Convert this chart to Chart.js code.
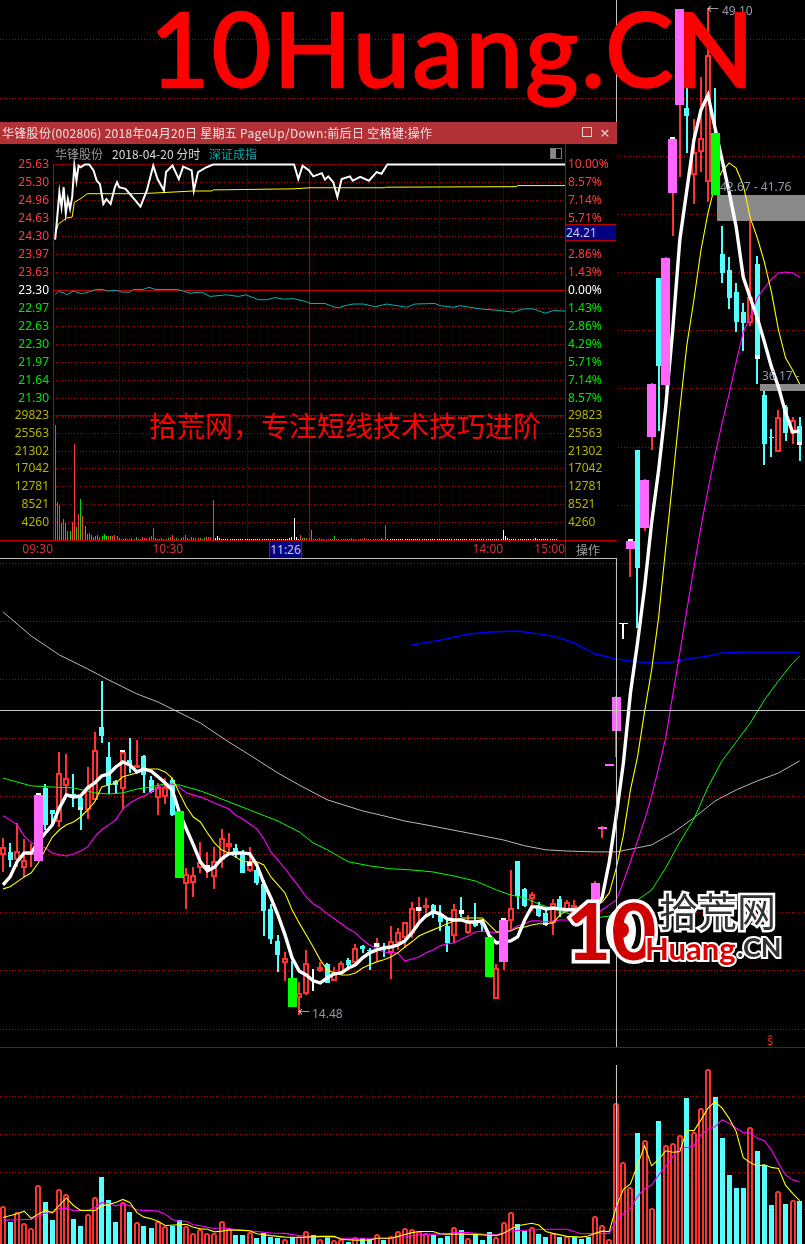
<!DOCTYPE html>
<html lang="zh">
<head>
<meta charset="utf-8">
<title>华锋股份</title>
<script src="https://cdn.jsdelivr.net/npm/chart.js@4"></script>
<style>
html,body{margin:0;padding:0;background:#000;width:805px;height:1244px;overflow:hidden}
canvas{position:absolute;display:block}
.t{position:absolute;white-space:pre;font-family:"Noto Sans","Noto Sans CJK SC",sans-serif;font-size:12px;line-height:14px}
.cjk{font-family:"Noto Sans CJK SC","Noto Sans",sans-serif}
.ln{position:absolute}
#popup{position:absolute;left:0;top:122px;width:617px;height:437px;background:#000}
</style>
</head>
<body>
<canvas id="k" style="left:0;top:0" width="805" height="1048"></canvas>
<canvas id="v" style="left:0;top:1048px" width="805" height="196"></canvas>
<div class="ln" style="left:0;top:1047px;width:805px;height:1px;background:#a00000"></div>

<div class="t" style="left:312px;top:1007px;color:#8f9aa6">14.48</div>
<div class="t" style="left:298px;top:1006px;color:#c8c8c8">←</div>
<div class="t" style="left:722px;top:4px;color:#8f9aa6">49.10</div>
<div class="t" style="left:707px;top:3px;color:#c8c8c8">←</div>
<div class="t" style="left:720px;top:180px;color:#8f9aa6">42.67 - 41.76</div>
<div class="t" style="left:762px;top:369px;color:#8f9aa6">36.17 -</div>
<div class="t" style="left:767px;top:1033px;color:#e03020;font-size:13px">ŝ</div>

<div id="popup">
  <canvas id="pp" style="left:0;top:22px" width="617" height="274"></canvas>
  <canvas id="pv" style="left:0;top:278px" width="617" height="160"></canvas>
  <div class="ln" style="left:0;top:0;width:617px;height:22px;background:#b23137"></div>
  <div class="t cjk" style="left:2px;top:3px;color:#f2e4e4;line-height:16px;letter-spacing:.3px">华锋股份(002806) 2018年04月20日 星期五 PageUp/Down:前后日 空格键:操作</div>
  <div class="ln" style="left:582px;top:5px;width:8px;height:8px;border:1px solid #e8d0d0"></div>
  <div class="t" style="left:600px;top:2px;color:#e8d0d0;font-size:17px;line-height:18px">×</div>
  <div class="t cjk" style="left:55px;top:24px;color:#9a9a9a;line-height:16px">华锋股份</div>
  <div class="t cjk" style="left:112px;top:24px;color:#d8d8d8;line-height:16px">2018-04-20 分时</div>
  <div class="t cjk" style="left:209px;top:24px;color:#00a8a8;line-height:16px">深证成指</div>
  <div class="ln" style="left:550px;top:26px;width:10px;height:9px;border:1px solid #777;background:linear-gradient(90deg,#888 50%,#000 50%)"></div>
  <div class="ln" style="left:53px;top:42px;width:1px;height:376px;background:#c00000"></div>
  <div class="ln" style="left:565px;top:22px;width:1px;height:413px;background:#c00000"></div>
  <div class="ln" style="left:0;top:418px;width:617px;height:1px;background:#c00000"></div>
  <div class="ln" style="left:0;top:436px;width:617px;height:1px;background:#c0c0c0"></div>
  <div class="t" style="left:566px;top:102px;width:50px;height:15px;background:#000080;border-top:1px solid #c00000;border-bottom:1px solid #c00000;color:#c8c8e0;line-height:15px">24.21</div>
  <div class="t" style="left:269px;top:419px;width:33px;height:17px;background:#000080;border-left:1px solid #c00000;border-right:1px solid #c00000;box-sizing:border-box;color:#c8c8e0;line-height:17px;text-align:center">11:26</div>
  <div class="t cjk" style="left:576px;top:420px;color:#a0a0a0;line-height:16px">操作</div>
  <div class="t cjk" style="left:149px;top:283px;color:#ff0000;font-size:28px;line-height:40px">拾荒网，专注短线技术技巧进阶</div>
</div>

<div class="t" style="left:150px;top:-17px;color:#ff0000;font-family:Lato,sans-serif;font-size:102px;line-height:130px;letter-spacing:2.6px;-webkit-text-stroke:2.5px #ff0000">10Huang.CN</div>

<div class="ln" style="left:606px;top:908px;width:30px;height:46px;border-radius:50%;background:#fff"></div>
<div class="t" style="left:566px;top:878px;color:#d00000;font-family:Lato,sans-serif;font-weight:700;font-size:78px;line-height:104px;-webkit-text-stroke:7px #fff;paint-order:stroke fill">10</div>
<div class="ln" style="left:613px;top:922px;width:16px;height:16px;border-radius:50%;background:#d00000"></div>
<div class="t cjk" style="left:659px;top:884px;color:#333;font-size:39px;line-height:50px;-webkit-text-stroke:5px #fff;paint-order:stroke fill">拾荒网</div>
<div class="t" style="left:645px;top:926px;color:#e00000;font-family:Lato,sans-serif;font-weight:700;font-size:31px;line-height:44px;-webkit-text-stroke:4px #fff;paint-order:stroke fill">Huang</div>
<div class="t" style="left:737px;top:927px;color:#333;font-family:Lato,sans-serif;font-weight:700;font-size:27px;line-height:40px;-webkit-text-stroke:4px #fff;paint-order:stroke fill">.CN</div>

<script>
// ---------- daily candles (prices) ----------
const kinds = "rcrrrpccrr"+"ccrrcccrcr"+"ccrrcgrrrr"+"rrrccrcccc"+"rgrrwrcrrc"+"rccrcrrrrr"+"rcccrcrccg"+"rprccrccrc"+"rrccppppvp"+"cppcpppcrr"+"rgccccrccc"+"rcrc";
const high = [20.57,20.40,21.09,20.54,20.36,22.12,22.43,21.53,23.53,23.46,
22.77,21.98,23.01,24.21,25.97,23.87,22.56,23.59,24.01,23.94,
23.42,22.70,22.46,22.63,22.63,21.50,19.54,19.57,20.43,20.09,
20.26,20.88,20.74,20.36,20.16,20.26,19.64,19.13,18.30,17.24,
16.65,16.34,15.62,16.72,16.07,16.31,16.27,16.14,16.34,16.45,
16.93,16.89,16.79,17.13,16.96,17.55,17.48,17.68,18.37,18.54,
18.51,18.30,18.27,17.75,18.30,18.54,17.92,18.34,17.75,17.17,
16.24,17.82,19.47,19.78,18.85,18.71,18.37,18.10,18.47,18.58,
18.44,18.44,18.27,18.27,19.09,20.98,23.11,25.45,27.96,30.85,
33.90,32.91,36.21,39.81,40.54,44.66,49.05,46.52,45.28,46.72,
49.10,46.34,41.60,40.54,39.64,38.96,41.81,40.57,35.93,34.63,
35.28,35.45,35.04,35.04];
const bodyTop = [20.26,20.09,20.12,19.81,20.05,22.05,22.29,21.53,22.80,22.63,
22.08,21.95,22.29,23.59,24.38,23.35,22.53,23.53,23.25,23.08,
23.39,22.56,22.32,22.32,22.56,21.50,19.33,19.30,19.75,19.64,
19.78,20.57,20.40,20.23,20.05,19.75,19.47,18.99,18.13,17.03,
16.45,15.76,15.24,16.27,15.69,16.14,16.24,15.93,16.27,16.38,
16.79,16.86,16.72,16.96,16.82,17.03,17.34,17.68,18.16,18.20,
18.27,18.27,17.92,17.55,18.13,18.10,17.68,17.65,17.65,17.17,
16.10,17.75,18.16,19.78,18.82,18.65,18.20,17.99,18.34,18.47,
18.37,18.27,18.16,18.10,19.02,20.95,23.11,25.42,27.96,30.78,
33.90,32.87,36.17,39.81,40.50,44.59,49.05,45.66,44.14,44.63,
47.48,44.80,40.64,40.09,39.33,38.65,39.16,40.30,35.79,34.32,
35.04,35.38,34.93,34.73];
const bodyBottom = [19.99,19.81,19.81,19.54,19.99,19.78,21.02,21.40,21.12,22.36,
22.01,21.53,21.53,21.88,24.08,22.39,22.39,22.25,23.08,22.98,
22.74,22.15,21.95,21.98,21.36,19.20,18.99,19.02,19.54,19.51,
19.23,19.81,20.26,19.99,19.37,19.44,19.02,18.06,17.10,16.55,
16.27,14.76,15.07,15.21,15.66,16.00,15.59,15.66,15.93,16.21,
16.27,16.76,16.69,16.82,16.72,16.62,16.96,17.13,17.31,18.06,
18.16,17.96,17.68,16.96,17.20,17.96,17.31,17.55,17.58,15.79,
15.04,16.31,17.72,18.58,18.23,18.47,17.89,17.58,17.65,18.13,
18.10,17.75,17.82,17.58,17.24,20.88,23.04,24.25,27.92,30.50,
29.85,31.22,34.35,36.79,36.14,42.74,45.76,45.38,43.35,44.14,
43.11,42.67,39.99,39.13,38.30,38.27,38.27,37.03,34.11,34.30,
33.84,34.49,34.49,34.08];
const low = [19.40,19.57,19.57,19.23,19.57,19.78,20.85,20.95,20.95,21.98,
21.64,20.85,21.22,21.88,23.84,22.08,22.08,21.53,22.80,22.98,
22.12,22.12,21.36,21.74,21.33,19.20,18.13,18.54,19.37,19.20,
18.82,19.54,19.99,19.88,19.37,19.40,18.96,17.20,16.93,15.97,
15.66,14.76,14.48,15.18,15.31,15.97,15.59,15.66,15.93,16.07,
16.27,16.62,16.03,16.34,16.48,15.73,16.72,16.79,17.13,17.72,
17.86,17.82,17.37,16.65,16.96,17.86,17.27,17.51,17.34,15.79,
15.04,16.03,17.41,18.13,18.20,18.06,17.86,17.55,17.24,17.86,
18.03,17.58,17.58,17.24,17.07,20.57,23.04,23.35,27.41,29.54,
27.79,31.12,33.90,34.56,35.90,41.26,43.29,44.11,42.36,43.46,
42.43,42.67,39.64,38.75,37.96,37.31,38.16,36.17,33.39,33.66,
33.84,34.21,34.11,33.53];
const markIdx = [5,11,17,29,35,53,59,65,71,77,89,95,107,113];
const markHi = [22.12,21.64,23.59,19.64,19.75,16.96,18.20,18.10,17.82,17.65,30.85,44.66,37.17,34.18];
const markLo = [22.05,21.53,23.53,19.51,19.61,16.82,18.06,17.96,17.75,17.58,30.78,44.59,37.03,34.08];

// ---------- moving averages on the candles ----------
const maWhite = [18.96,19.23,19.75,20.05,20.05,20.43,20.74,21.02,21.60,22.05,
21.98,22.01,22.29,22.46,22.70,22.77,23.01,23.18,23.08,22.84,
22.94,22.87,22.67,22.46,22.22,21.46,20.88,20.33,19.75,19.44,
19.57,19.85,20.02,20.05,20.05,20.02,19.64,19.02,18.51,17.92,
17.24,16.45,16.00,15.86,15.66,15.59,15.76,15.90,15.93,16.10,
16.21,16.45,16.62,16.72,16.79,16.82,16.89,17.03,17.31,17.65,
17.89,18.03,17.96,17.79,17.75,17.75,17.68,17.68,17.72,17.20,
16.96,17.00,17.03,17.17,17.75,18.20,18.20,18.13,18.16,18.13,
18.10,18.10,17.99,17.92,18.10,18.54,19.75,21.36,23.15,25.55,
27.27,29.16,31.40,33.22,35.38,38.03,41.12,42.84,44.56,45.59,
46.10,44.97,43.87,42.77,41.57,39.85,39.13,38.44,37.62,36.76,
36.07,35.18,34.52,34.56];
const maYellow = [18.82,18.89,19.06,19.23,19.37,19.71,20.16,20.60,20.85,21.02,
21.12,21.29,21.53,21.81,22.32,22.39,22.46,22.67,22.74,22.80,
22.91,22.94,22.94,22.84,22.63,22.12,21.64,21.29,21.12,20.74,
20.40,20.16,20.05,19.92,19.75,19.75,19.75,19.64,19.23,18.96,
18.68,18.10,17.65,17.24,16.82,16.38,16.03,15.93,15.86,15.86,
15.93,16.10,16.21,16.31,16.38,16.48,16.62,16.82,17.00,17.20,
17.31,17.41,17.51,17.62,17.72,17.82,17.82,17.82,17.82,17.58,
17.34,17.34,17.37,17.48,17.51,17.58,17.62,17.62,17.65,17.92,
18.10,18.16,18.16,18.20,18.27,18.37,18.68,19.54,20.67,22.22,
23.35,24.90,26.34,28.16,30.54,32.87,35.28,37.51,39.06,40.77,
42.05,43.01,43.49,43.77,43.59,43.01,41.88,41.19,40.36,39.33,
38.03,37.07,36.65,36.17];
const maMagenta = [21.33,21.19,21.02,20.64,20.40,20.30,20.23,20.05,19.99,19.95,
20.02,20.12,20.26,20.60,20.85,21.02,21.19,21.57,21.77,21.91,
22.01,22.15,22.32,22.39,22.43,22.32,22.12,22.05,21.98,21.88,
21.77,21.67,21.57,21.36,21.22,21.05,20.88,20.54,20.09,19.81,
19.51,19.20,18.89,18.54,18.30,18.16,17.96,17.79,17.62,17.44,
17.31,17.07,16.89,16.76,16.65,16.62,16.62,16.34,16.41,16.48,
16.62,16.72,16.86,16.93,16.96,17.10,17.20,17.34,17.37,17.34,
17.31,17.34,17.41,17.55,17.62,17.72,17.72,17.68,17.72,17.75,
17.75,17.75,17.75,17.82,17.92,18.10,18.27,18.44,19.06,19.75,
20.47,21.19,22.01,22.98,24.01,25.48,26.93,28.41,29.85,31.26,
32.53,33.73,34.83,35.83,36.93,37.96,38.47,39.13,39.47,39.78,
39.99,40.02,39.99,39.85];
const maGreenX = [0,2,4,7,10,13,15,17,19,21,23,25,28,31,35,39,42,44,46,49,52,55,58,61,64,67,70,72,74,76,78,81,84,87,90,92,94,96,98,100,102,104,106,108,110,112,113];
const maGreen = [22.63,22.49,22.36,22.32,22.29,22.12,22.08,22.12,22.25,22.32,22.43,22.39,22.19,21.91,21.53,21.15,20.78,20.40,20.16,19.75,19.61,19.51,19.47,19.40,19.26,19.09,18.78,18.61,18.51,18.30,18.13,17.92,17.82,17.92,18.44,18.78,19.54,20.43,21.22,22.32,23.22,23.87,24.52,25.31,25.97,26.58,26.82];
const maGrayX = [0,4,8,12,15,19,22,24,28,32,35,39,42,46,51,54,57,60,66,71,74,77,80,84,87,90,92,95,98,101,104,107,110,113];
const maGray = [28.34,27.51,26.86,26.38,26.00,25.52,25.24,25.00,24.52,23.87,23.42,22.80,22.39,21.88,21.50,21.33,21.15,21.02,20.74,20.50,20.30,20.16,20.12,20.09,20.09,20.23,20.33,20.74,21.26,21.84,22.22,22.53,22.80,23.22];
const maBlueX = [58,62,66,69,73,77,79,81,84,87,90,93,95,97,100,102,105,112,113];
const maBlue = [27.20,27.37,27.58,27.65,27.68,27.55,27.44,27.27,26.89,26.72,26.62,26.58,26.62,26.72,26.82,26.93,26.96,26.96,26.93];
const priceGrid = [14,16,18,20,22,24,26,28,30,32,34,36,38,40,42,44,46,48];
const crossIndex = 87.02, crossPrice = 24.95;
const gapFrom = [101.3,107.4], gapTop = [42.67,36.17], gapBottom = [41.76,35.93];

// ---------- daily volume ----------
const volume = [1.11,.69,.96,.65,.53,1.65,1.21,.74,1.55,1.43,
.76,.58,.89,1.35,1.88,1.27,.68,1.22,.95,.67,
.58,.52,.72,.58,.58,.74,.58,.38,.49,.38,
.38,.71,.53,.34,.34,.41,.27,.38,.29,.27,
.22,.29,.32,.43,.34,.22,.28,.20,.22,.16,
.29,.25,.22,.35,.20,.32,.43,.53,.50,.45,
.38,.34,.27,.32,.56,.47,.27,.34,.20,.42,
.29,.69,.96,.63,.45,.56,.36,.28,.40,.28,
.31,.28,.23,.29,.85,.61,.22,3.85,2.28,1.62,
3.04,2.86,1.04,3.36,2.73,2.79,3.00,3.97,3.08,3.71,
4.73,3.99,2.91,1.93,1.58,1.58,3.21,2.57,2.20,1.13,
1.51,1.16,1.27,1.24];
const volumeDir = "rcrrrrccrr"+"ccrrcccrcr"+"ccrrccrrrr"+"rrrccrcccc"+"rcrrcrcrrc"+"rccrcrrrrr"+"rcccrcrccc"+"rrrccrccrc"+"rcccrrrrrr"+"crrcrrrcrr"+"rcccccrccc"+"rcrc";
const volYellowX = [0,2,3,4,5,6,7,9,10,11,13,14,15,16,17,18,19,20,21,22,23,25,26,27,28,29,30,31,32,34,35,36,38,40,42,43,45,47,48,50,52,53,55,56,57,58,59,61,62,63,65,67,70,71,72,73,75,76,77,78,80,82,83,84,85,86,87,88,89,90,91,92,93,94,95,96,97,98,99,100,101,102,103,104,105,106,107,108,109,110,111,112,113];
const volYellow = [.80,.90,.97,.78,.89,.99,.93,1.32,1.12,.99,.98,1.11,1.15,1.20,1.28,1.20,.93,.81,.77,.70,.59,.61,.62,.54,.50,.49,.42,.44,.47,.46,.45,.37,.32,.28,.27,.28,.30,.30,.22,.20,.20,.25,.25,.30,.35,.40,.43,.43,.37,.36,.36,.35,.32,.38,.49,.58,.65,.60,.43,.38,.30,.28,.31,.38,.44,.43,1.09,1.55,1.69,2.19,2.70,2.17,2.34,2.57,2.53,2.55,3.12,3.10,3.39,3.70,3.87,3.70,3.43,3.08,2.39,2.26,2.17,2.20,2.13,2.10,1.66,1.44,1.25];
const volMagentaX = [0,2,4,5,6,7,8,9,10,12,13,14,15,16,17,18,19,22,23,24,25,26,27,28,29,30,31,33,36,38,40,42,44,47,48,52,55,56,57,59,61,63,64,66,68,70,72,75,77,80,82,84,86,87,88,89,90,91,92,93,94,95,96,97,98,99,100,101,102,103,104,105,106,107,108,109,110,111,112,113];
const volMagenta = [.73,.74,.75,.84,.92,.92,1.04,1.05,.98,.99,1.06,1.20,1.16,1.11,1.16,1.11,1.00,.97,.89,.75,.71,.70,.61,.58,.54,.51,.53,.48,.43,.39,.38,.32,.29,.28,.25,.25,.25,.28,.29,.34,.36,.36,.41,.40,.36,.34,.45,.47,.49,.49,.37,.38,.38,.72,.91,1.04,1.35,1.57,1.66,1.93,2.15,2.41,2.64,2.66,2.70,2.99,3.15,3.21,3.39,3.30,3.17,3.05,3.05,2.90,2.84,2.59,2.24,1.93,1.80,1.74];
const volGrid = [1,2,3,4];
const crossVolTop = 4.846;

// ---------- intraday popup ----------
const minuteWhiteX = [0,1,2,3,4,5,6,7,8,9,10,11,12,14,16,18,19.5,21,22.6,24,26,28,29,30,33,36,40,43,46,48,51,52,55,58,60,64,65,67,71,74,112,114,116,119,121,125,126.5,128,130.4,132.3,134.3,138.2,139.5,143,147.1,150.7,153,155.7,239];
const minuteWhite = [24.24,24.66,25.12,24.84,25.21,24.72,24.99,24.81,25.03,25.61,25.33,25.61,25.58,25.63,25.63,25.52,25.33,25.27,24.90,24.99,24.90,25.21,25.30,25.21,25.18,25.04,24.85,25.15,25.61,25.36,25.15,25.49,25.61,25.36,25.59,25.52,25.15,25.49,25.58,25.63,25.63,25.36,25.61,25.52,25.41,25.47,25.35,25.41,25.30,25.03,25.36,25.41,25.33,25.40,25.33,25.49,25.46,25.63,25.63];
const minuteAvgX = [0,1.5,5.4,8,9,12.4,15,21,36.7,45.3,64.8,73.4,74.2,111.7,119.5,154.6,155,216,217,239];
const minuteAvg = [24.32,24.53,24.64,24.66,24.93,25.01,25.09,25.09,25.09,25.10,25.14,25.14,25.16,25.18,25.20,25.20,25.21,25.22,25.24,25.24];
const minuteIndexX = [0,1.5,3.8,5.4,8.5,12.4,15.6,19.5,22.6,24.2,28.8,31.2,35.1,36.7,41.4,44,46.8,57,60.1,63.2,68.7,72.6,80.4,85.9,89.5,95.2,99.2,103.1,107,111.7,118,119.5,126.5,130.4,132.8,135.9,139.8,144.5,150,155.4,164.8,168.7,178.1,180.4,186.7,189.8,199.2,208.6,214.8,219.5,224.2,229.7,233.6,239];
const minuteIndex = [23.22,23.28,23.26,23.22,23.29,23.24,23.27,23.32,23.32,23.29,23.30,23.27,23.27,23.32,23.32,23.36,23.32,23.32,23.29,23.25,23.27,23.19,23.22,23.19,23.22,23.13,23.13,23.17,23.14,23.15,23.09,23.06,23.06,23.00,22.98,23.02,23.05,23.05,23.00,23.05,22.99,23.05,23.06,23.02,22.99,23.02,22.96,22.93,22.90,22.96,22.96,22.88,22.93,22.92];
const minuteVol = [27540,9070,8520,4060,5010,4060,2230,2230,4300,23000,
3180,6200,9870,5810,3420,1510,1670,1270,720,1030,
1270,720,1030,1430,1000,1000,1000,1100,1200,1000,
500,400,400,500,400,400,500,400,800,400,
300,700,600,600,800,1000,2950,500,400,300,
500,400,300,500,800,1270,400,500,300,500,
900,1270,500,300,700,600,600,500,600,400,
500,700,700,800,9630,600,1030,500,300,300,
300,250,300,250,250,300,250,300,250,300,
250,250,300,250,300,300,250,250,300,250,
300,250,250,300,250,300,250,250,300,400,
500,700,5250,800,300,1270,500,600,600,500,
2470,300,300,400,500,300,300,400,300,300,
300,1030,300,350,400,300,350,300,400,500,
350,300,300,300,400,500,300,350,300,300,
400,350,400,500,300,3660,300,300,250,250,
300,250,300,250,250,300,250,250,300,250,
300,250,300,300,250,250,300,250,300,250,
250,300,250,300,300,250,250,300,250,300,
250,300,300,250,300,250,250,300,250,300,
250,300,250,250,300,300,250,300,250,300,
2470,1030,500,250,300,250,250,300,250,250,
300,250,300,250,300,500,300,250,300,250,
300,250,250,300,250,300];
const minuteVolDir = "rrrgrgggrr"+"grgrgggggg"+"gggggrgrrr"+"gggggggggg"+"grrrrrrggg"+"ggggrrgggg"+"rrgggrrrgg"+"grrrrwwwww"+"wwwwwwwwww"+"wwwwwwwwww"+"wwwwwwwwww"+"wwwww"+"rggrg"+"ggrrrggrrg"+"ggggrrgggr"+"rgrggrggrg"+"ggrggr";
const priceTicks = [25.63,25.30,24.96,24.63,24.30,23.97,23.63,23.30,22.97,22.63,22.30,21.97,21.64,21.30,20.97];
const pctTicks = [10,8.57,7.14,5.71,4.29,2.86,1.43,0,-1.43,-2.86,-4.29,-5.71,-7.14,-8.57,-10];
const volTicks = [4260,8521,12781,17042,21302,25563,29823];
const timeGrid = [30,60,90,150,180,210];
const timeTicks = [-1,60,210,239];
const timeLabels = {"-1":"09:30","60":"10:30","210":"14:00","239":"15:00"};
const cursorMinute = 119.3;

// ---------- drawing ----------
const RED="#ff3232", CYAN="#54ffff", PINK="#ff66ff", GREEN="#00ff00", WHITE="#ffffff", GRID="#c00000";
const SP = 7.05;                   // px between daily bars, only used for bar widths
const FONT = {family:'"Noto Sans","Noto Sans CJK SC",sans-serif',size:12};
Chart.defaults.font.family = FONT.family;

const snap = {id:"snap",afterUpdate(chart){
  chart.getSortedVisibleDatasetMetas().forEach(m=>{
    if(m.type!=="bar")return;
    m.data.forEach(el=>{
      const w=Math.max(1,Math.round(el.width));
      el.width=w; el.x=Math.round(el.x-w/2)+w/2;
      el.y=Math.round(el.y); el.base=Math.round(el.base);
      if(el.base===el.y)el.base=el.y+1;
      el.height=el.base-el.y;
    });
  });
}};
const gaps = {id:"gaps",beforeDatasetsDraw(chart){
  const {ctx,scales:{x,y},chartArea:a}=chart;
  ctx.save();ctx.fillStyle="#8a8a8a";
  gapFrom.forEach((g,i)=>{
    const l=Math.round(x.getPixelForValue(g)),t=Math.round(y.getPixelForValue(gapTop[i])),b=Math.round(y.getPixelForValue(gapBottom[i]));
    ctx.fillRect(l,t,a.right-l,b-t);
  });
  ctx.restore();
}};
const dotted = (hVals,vVals)=>({id:"dotted",beforeDatasetsDraw(chart){
  const {ctx,scales:{x,y},chartArea:a}=chart;
  ctx.save();ctx.strokeStyle=GRID;ctx.lineWidth=1;ctx.setLineDash([1,2]);
  ctx.beginPath();
  hVals.forEach(v=>{const p=Math.round(y.getPixelForValue(v)-.5)+.5;ctx.moveTo(a.left,p);ctx.lineTo(a.right,p);});
  vVals.forEach(v=>{const p=Math.round(x.getPixelForValue(v)-.5)+.5;ctx.moveTo(p,a.top);ctx.lineTo(p,a.bottom);});
  ctx.stroke();ctx.restore();
}});
const base = {responsive:false,animation:false,events:[],plugins:{legend:{display:false},tooltip:{enabled:false}}};
const barOpt = (w,o)=>Object.assign({type:"bar",grouped:false,categoryPercentage:1,barPercentage:w/SP,borderWidth:0,borderSkipped:false},o);
const line = (xs,ys,color,w,order)=>({type:"line",data:ys.map((v,i)=>({x:xs?xs[i]:i,y:v})),borderColor:color,borderWidth:w,pointRadius:0,tension:0,order});
const seg = (pts,color,order)=>({type:"line",data:pts,borderColor:color,borderWidth:1,pointRadius:0,tension:0,order});
const idxOf = fn => high.map((_,i)=>i).filter(i=>fn(kinds[i]));
const floats = (ids,a,b)=>ids.map(i=>({x:i,y:[a[i],b[i]]}));
const wickColor = {r:RED,c:CYAN,p:RED,g:CYAN,w:WHITE,v:WHITE};
const all = high.map((_,i)=>i);
const xDaily = {type:"linear",display:false,offset:false,min:-0.4255,max:113.76,grid:{offset:false}};
const noAuto = {autoPadding:false};
const noGrid = {display:false,drawTicks:false,tickLength:0};
const sideAxis = w => s => { s.width=w; s.paddingTop=0; s.paddingBottom=0; };

new Chart(document.getElementById("k"),{
  data:{datasets:[
    barOpt(2,{label:"wick",order:30,data:floats(all,low,high),backgroundColor:c=>wickColor[kinds[c.raw.x]]}),
    barOpt(5,{label:"down",order:29,minBarLength:1,data:floats(idxOf(k=>k==="c"),bodyBottom,bodyTop),backgroundColor:CYAN}),
    barOpt(6,{label:"up",order:28,minBarLength:2,data:floats(idxOf(k=>k==="r"),bodyBottom,bodyTop),backgroundColor:"#000",borderColor:RED,borderWidth:2}),
    barOpt(5,{label:"flat",order:27,minBarLength:1,data:floats(idxOf(k=>k==="w"),bodyBottom,bodyTop),backgroundColor:WHITE}),
    barOpt(5,{label:"mark",order:26,data:markIdx.map((m,i)=>({x:m,y:[markLo[i],markHi[i]]})),backgroundColor:WHITE}),
    line(maGrayX,maGray,"#b8b8b8",1,25),
    line(maBlueX,maBlue,"#0000ff",1.4,24),
    line(maGreenX,maGreen,"#00ff00",1,23),
    line(null,maMagenta,"#ff00ff",1.1,22),
    line(null,maYellow,"#ffff00",1.1,21),
    line(null,maWhite,"#ffffff",3.4,20),
    barOpt(9,{label:"wide",order:10,minBarLength:1,data:floats(idxOf(k=>k==="p"||k==="g"||k==="v"),bodyBottom,bodyTop),backgroundColor:c=>({p:PINK,g:GREEN,v:WHITE})[kinds[c.raw.x]]}),
    seg([{x:crossIndex,y:13.35},{x:crossIndex,y:49.37}],"#c8c8c8",1),
    seg([{x:-0.4255,y:crossPrice},{x:113.76,y:crossPrice}],"#c8c8c8",1)
  ]},
  options:Object.assign({},base,{layout:noAuto,scales:{
    x:xDaily,
    y:{type:"linear",min:13.35,max:49.37,afterBuildTicks:s=>{s.ticks=priceGrid.map(v=>({value:v}))},afterFit:s=>{s.width=0},
       ticks:{display:false},border:{display:false,dash:[1,2]},grid:{color:GRID,drawTicks:false,tickLength:0}}
  }}),
  plugins:[snap,gaps]
});

new Chart(document.getElementById("v"),{
  data:{datasets:[
    barOpt(5,{label:"volDown",order:10,data:volume.map((v,i)=>({x:i,y:v})).filter(d=>volumeDir[d.x]==="c"),backgroundColor:CYAN,borderSkipped:"bottom"}),
    barOpt(6,{label:"volUp",order:9,data:volume.map((v,i)=>({x:i,y:v})).filter(d=>volumeDir[d.x]==="r"),backgroundColor:"#000",borderColor:RED,borderWidth:2,borderSkipped:"bottom",borderRadius:{topLeft:2,topRight:2,bottomLeft:0,bottomRight:0}}),
    line(volMagentaX,volMagenta,"#ff00ff",1.1,5),
    line(volYellowX,volYellow,"#ffff00",1.1,4),
    seg([{x:crossIndex,y:crossVolTop},{x:crossIndex,y:0}],"#c8c8c8",1)
  ]},
  options:Object.assign({},base,{layout:noAuto,scales:{
    x:xDaily,
    y:{type:"linear",min:0.098,max:5.297,afterBuildTicks:s=>{s.ticks=volGrid.map(v=>({value:v}))},afterFit:s=>{s.width=0},
       ticks:{display:false},border:{display:false,dash:[1,2]},grid:{color:GRID,drawTicks:false,tickLength:0}}
  }}),
  plugins:[snap]
});

const priceColor = v => v>0.001?"#ff3c3c":(v<-0.001?"#00e800":"#ffffff");
new Chart(document.getElementById("pp"),{
  data:{datasets:[
    seg([{x:-1,y:25.63},{x:239,y:25.63}],GRID,9),
    seg([{x:-1,y:23.30},{x:239,y:23.30}],GRID,9),
    seg([{x:cursorMinute,y:20.97},{x:cursorMinute,y:25.63}],GRID,9),
    line(minuteIndexX,minuteIndex,"#00b4b4",1,3),
    line(minuteAvgX,minuteAvg,"#ffff00",1,2),
    Object.assign(line(minuteWhiteX,minuteWhite,"#ffffff",2,1),{clip:6})
  ]},
  options:Object.assign({},base,{layout:{autoPadding:false,padding:{top:20.5,bottom:1.5}},scales:{
    x:{type:"linear",display:false,min:-1,max:239},
    y:{type:"linear",position:"left",min:20.97,max:25.63,afterBuildTicks:s=>{s.ticks=priceTicks.map(v=>({value:v}))},afterFit:sideAxis(53),
       ticks:{padding:4,font:FONT,autoSkip:false,color:c=>c.tick?priceColor(c.tick.value-23.30):"#fff",callback:v=>v===20.97?"":v.toFixed(2)},
       border:{display:false},grid:noGrid},
    y2:{type:"linear",position:"right",min:-10,max:10,afterBuildTicks:s=>{s.ticks=pctTicks.map(v=>({value:v}))},afterFit:sideAxis(52),
       ticks:{padding:3,font:FONT,autoSkip:false,color:c=>c.tick?priceColor(c.tick.value):"#fff",callback:v=>v===-10?"":Math.abs(v).toFixed(2)+"%"},
       border:{display:false},grid:noGrid}
  }}),
  plugins:[dotted(priceTicks,timeGrid)]
});

new Chart(document.getElementById("pv"),{
  data:{datasets:[
    seg([{x:-1,y:29823},{x:239,y:29823}],GRID,9),
    seg([{x:cursorMinute,y:0},{x:cursorMinute,y:29823}],GRID,9),
    {type:"bar",grouped:false,categoryPercentage:1,barPercentage:.5,borderWidth:0,order:1,data:minuteVol.map((v,i)=>({x:i,y:v})),
     backgroundColor:c=>({r:"#ff3c3c",g:"#00e000",w:"#ffffff"})[minuteVolDir[c.raw.x]||"w"]}
  ]},
  options:Object.assign({},base,{layout:{autoPadding:false,padding:{top:15.5}},scales:{
    x:{type:"linear",offset:false,min:-1,max:239,afterBuildTicks:s=>{s.ticks=timeTicks.map(v=>({value:v}))},afterFit:s=>{s.height=19.7},
       ticks:{autoSkip:false,maxRotation:0,align:"end",padding:2,font:FONT,color:"#d83030",callback:v=>timeLabels[String(v)]||""},
       border:{display:false},grid:Object.assign({offset:false},noGrid)},
    y:{type:"linear",position:"left",min:0,max:29823,afterBuildTicks:s=>{s.ticks=volTicks.map(v=>({value:v}))},afterFit:sideAxis(53),
       ticks:{padding:4,font:FONT,autoSkip:false,color:"#b4b400",callback:v=>String(v)},
       border:{display:false},grid:noGrid},
    y2:{type:"linear",position:"right",min:0,max:29823,afterBuildTicks:s=>{s.ticks=volTicks.map(v=>({value:v}))},afterFit:sideAxis(52),
       ticks:{padding:3,font:FONT,autoSkip:false,color:"#b4b400",callback:v=>String(v)},border:{display:false},grid:noGrid}
  }}),
  plugins:[snap,dotted(volTicks,timeGrid)]
});
</script>
</body>
</html>
